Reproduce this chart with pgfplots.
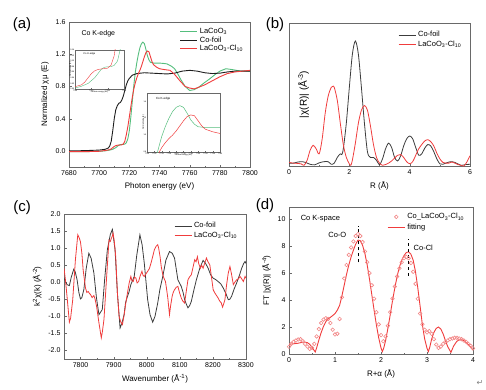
\documentclass[border=0pt]{standalone}
\usepackage{fontspec}
\setmainfont{Liberation Sans}
\newfontfamily\djv{DejaVu Sans}
\usepackage{pgfplots}
\usepackage{pgfplotstable}
\pgfplotsset{compat=1.18}
\definecolor{cgreen}{RGB}{85,190,125}
\definecolor{cred}{RGB}{240,60,60}
\definecolor{ccirc}{RGB}{242,135,135}
\definecolor{cblack}{RGB}{30,30,30}
\definecolor{cgrey}{RGB}{60,60,60}
\definecolor{cframe}{RGB}{105,105,105}

\pgfplotsset{
  myaxis/.style={
    scale only axis,
    anchor=south west,
    axis line style={cframe},
    tick style={cframe},
    tick align=inside,
    major tick length=2.5pt,
    minor tick length=1.4pt,
    tick pos=left,
    /pgf/number format/assume math mode=true,
    /pgf/number format/1000 sep={},
    tick label style={font=\fontsize{7}{8}\selectfont},
    label style={font=\fontsize{8}{9}\selectfont},
    legend style={draw=none, fill=none, font=\fontsize{7.5}{8.5}\selectfont,
      at={(0.98,0.98)}, anchor=north east, row sep=-1.5pt},
    legend cell align=left,
  },
  inset/.style={
    scale only axis,
    anchor=south west,
    axis background/.style={fill=white},
    axis line style={cframe, line width=0.3pt},
    tick style={cframe, line width=0.2pt},
    tick align=inside,
    major tick length=1pt,
    tick pos=left,
    /pgf/number format/assume math mode=true,
    /pgf/number format/1000 sep={},
    tick label style={font=\fontsize{2}{2}\selectfont, inner sep=0.5pt},
    label style={font=\fontsize{2}{2}\selectfont, inner sep=0.5pt},
    xlabel shift=-1pt, ylabel shift=-2pt,
  }
}

% ---------- panel (a) data ----------
\pgfplotstableread{
x y
7680 -0.01
7690 -0.01
7700 -0.005
7704 0.0
7707 0.01
7709 0.02
7711 0.04
7712 0.055
7713 0.07
7714 0.078
7715 0.08
7716 0.08
7717 0.085
7718 0.1
7719 0.15
7720 0.25
7721 0.42
7722 0.62
7723 0.82
7724 0.98
7725 1.1
7726 1.2
7727 1.28
7728 1.33
7729 1.35
7730 1.33
7731 1.26
7732 1.18
7733 1.13
7734 1.1
7736 1.09
7738 1.09
7740 1.09
7743 1.085
7745 1.08
7748 1.05
7750 1.02
7752 0.96
7754 0.89
7757 0.8
7760 0.75
7763 0.76
7766 0.79
7770 0.85
7773 0.89
7777 0.95
7780 0.99
7784 1.02
7788 1.01
7794 0.99
7800 0.99
}\aGreen
\pgfplotstableread{
x y
7680 -0.01
7690 -0.01
7700 -0.005
7704 0.005
7707 0.015
7708 0.025
7709 0.04
7710 0.055
7711 0.065
7712 0.07
7713 0.072
7714 0.073
7715 0.075
7716 0.085
7717 0.12
7718 0.2
7719 0.3
7720 0.42
7721 0.55
7722 0.67
7723 0.77
7724 0.85
7725 0.91
7726 0.96
7727 1.0
7728 1.05
7729 1.11
7730 1.17
7731 1.22
7732 1.24
7733 1.23
7734 1.17
7735 1.11
7736 1.07
7738 1.04
7740 1.02
7743 1.01
7747 1.0
7750 0.95
7754 0.86
7757 0.8
7760 0.78
7763 0.77
7766 0.79
7770 0.82
7775 0.87
7780 0.92
7785 0.96
7790 0.98
7795 0.99
7800 1.0
}\aRed
\pgfplotstableread{
x y
7680 0.0
7690 0.003
7700 0.01
7704 0.02
7706 0.035
7707 0.06
7708 0.12
7709 0.25
7710 0.4
7711 0.51
7712 0.56
7713 0.59
7714 0.6
7715 0.63
7716 0.68
7717 0.75
7718 0.82
7719 0.87
7720 0.9
7722 0.94
7725 0.96
7730 0.97
7735 0.965
7740 0.96
7745 0.955
7750 0.965
7755 0.99
7760 1.0
7765 0.99
7770 0.97
7775 0.96
7780 0.965
7785 0.98
7790 0.99
7795 0.99
7800 0.99
}\aBlack

% ---------- panel (b) data ----------
\pgfplotstableread{
x y
0.0 0.02
0.15 0.02
0.3 0.028
0.45 0.03
0.55 0.025
0.7 0.012
0.85 0.008
1.0 0.022
1.15 0.03
1.3 0.03
1.4 0.012
1.5 0.02
1.6 0.06
1.7 0.085
1.75 0.08
1.8 0.12
1.9 0.3
2.0 0.55
2.1 0.78
2.2 0.874
2.3 0.78
2.4 0.55
2.5 0.3
2.6 0.1
2.7 0.06
2.8 0.06
2.9 0.04
3.0 0.01
3.1 0.05
3.2 0.12
3.3 0.16
3.4 0.13
3.5 0.06
3.6 0.035
3.7 0.07
3.8 0.14
3.9 0.19
4.0 0.21
4.1 0.19
4.2 0.13
4.3 0.075
4.4 0.085
4.5 0.125
4.6 0.15
4.7 0.14
4.8 0.1
4.9 0.05
5.0 0.015
5.1 0.012
5.2 0.02
5.35 0.03
5.5 0.025
5.7 0.005
5.85 0.01
6.0 0.012
}\bBlack
\pgfplotstableread{
x y
0.0 0.025
0.15 0.02
0.3 0.018
0.4 0.015
0.5 0.005
0.6 0.04
0.7 0.11
0.8 0.145
0.9 0.12
1.0 0.085
1.1 0.19
1.2 0.37
1.3 0.49
1.4 0.55
1.45 0.557
1.5 0.55
1.6 0.46
1.7 0.3
1.8 0.15
1.9 0.06
2.0 0.015
2.05 0.005
2.1 0.04
2.2 0.16
2.3 0.3
2.4 0.39
2.5 0.423
2.6 0.39
2.7 0.28
2.8 0.15
2.9 0.06
3.0 0.02
3.1 0.005
3.2 0.01
3.3 0.02
3.4 0.035
3.5 0.055
3.6 0.075
3.7 0.08
3.8 0.06
3.9 0.03
4.0 0.016
4.1 0.03
4.2 0.075
4.3 0.12
4.4 0.15
4.5 0.175
4.6 0.184
4.7 0.17
4.8 0.14
4.9 0.09
5.0 0.05
5.1 0.025
5.2 0.02
5.3 0.02
5.4 0.028
5.5 0.02
5.6 0.01
5.7 0.005
5.8 0.0
5.9 0.03
6.0 0.072
}\bRed

% ---------- panel (c) data ----------
\pgfplotstableread{
x y
7750 0.12
7759.1 -0.07
7766.2 -0.10
7772 0.15
7779.4 0.38
7784 0.3
7789.6 0.07
7795 -0.3
7799.7 -0.49
7804 -0.45
7809.9 -0.22
7817 0.4
7825.1 0.85
7832 0.7
7840.3 0.27
7848 -0.45
7855.6 -0.95
7865.7 -0.80
7873 0.1
7881.0 0.95
7890 1.4
7896.2 1.55
7904.3 0.95
7911.4 -0.32
7919.5 -1.34
7925 -1.2
7931.7 -0.95
7936 -0.6
7941.9 -0.41
7946 -0.3
7952.0 -0.07
7962.2 0.17
7970 0.8
7979.4 1.39
7986 1.1
7992.6 0.56
8002.8 -0.51
8010 -0.95
8018.0 -1.17
8025 -1.0
8033.2 -0.61
8040 -0.2
8048.5 0.17
8058 0.65
8068.8 0.90
8077 0.85
8084.0 0.71
8094.2 0.07
8104.3 -0.12
8110 -0.3
8114.5 -0.51
8120 -0.65
8124.6 -0.75
8130 -0.68
8134.8 -0.56
8142 -0.25
8150.0 0.07
8160 0.4
8170.3 0.64
8178 0.55
8185.6 0.41
8193 0.22
8200.8 0.12
8208 0.08
8216.0 0.02
8224 -0.05
8231.3 -0.17
8240 -0.35
8246.5 -0.51
8251 -0.5
8256.6 -0.41
8264 -0.2
8271.8 -0.02
8280 0.2
8287.0 0.41
8293 0.55
8297.2 0.61
8300 0.55
}\cBlack
\pgfplotstableread{
x y
7750 0.41
7754 0.1
7759.1 -0.41
7766.2 -1.17
7770 -1.05
7776.4 -0.51
7784.5 0.66
7791.6 1.39
7796 1.3
7799.7 1.19
7804 0.85
7807.9 0.36
7812 0.05
7815.0 -0.17
7819 -0.3
7823.1 -0.27
7827 -0.33
7830.2 -0.36
7835 -0.45
7840.4 -0.39
7844 -0.5
7848.5 -0.71
7855.6 -1.19
7862.7 -1.63
7866 -1.45
7870.8 -1.09
7878.9 0.17
7886.0 1.24
7890 1.2
7893.1 1.29
7896 1.35
7898.2 1.44
7902 1.2
7906.3 0.75
7911.4 -0.32
7916.5 -1.0
7921 -1.15
7926.6 -1.24
7931 -1.0
7936.8 -0.61
7942 -0.3
7947.0 -0.02
7952.0 0.17
7955 0.05
7959.1 0.02
7963 0.15
7967.3 0.12
7971 -0.02
7975.4 0.02
7980 0.18
7985.5 0.32
7989 0.2
7992.6 0.17
7998 0.25
8002.8 0.32
8008 0.4
8012.9 0.56
8018 0.75
8023.1 0.95
8028 1.05
8033.2 1.10
8036 1.0
8040.3 0.75
8044 0.45
8048.5 0.22
8052 0.12
8056.6 0.02
8060 -0.2
8063.7 -0.46
8068.8 -0.95
8072 -0.7
8076.9 -0.41
8080 -0.3
8084.0 -0.22
8089 -0.15
8094.2 -0.12
8099 -0.3
8104.3 -0.46
8109 -0.55
8114.5 -0.61
8119 -0.3
8124.6 0.07
8129 0.15
8134.8 0.22
8139 0.4
8145.0 0.66
8149 0.6
8153.1 0.75
8157 0.55
8162.2 0.41
8166 0.5
8170.3 0.41
8175 0.55
8180.5 0.71
8185 0.6
8190.6 0.51
8195 0.2
8200.8 -0.22
8205 -0.3
8210.9 -0.39
8215 -0.45
8221.1 -0.56
8225 -0.6
8229.2 -0.73
8233 -0.62
8236.3 -0.51
8241 -0.1
8246.4 0.27
8251.5 0.46
8256 0.25
8261.7 -0.07
8266 0.0
8271.8 0.07
8277 0.1
8282.0 0.17
8287 0.1
8292.1 0.02
8297.2 0.17
8300 0.12
}\cRed

% ---------- panel (d) data ----------
\pgfplotstableread{
x y
0.00 0.54
0.05 0.75
0.10 0.9
0.15 1.0
0.20 1.08
0.25 1.1
0.30 0.95
0.35 0.75
0.40 0.55
0.45 0.38
0.50 0.45
0.55 0.75
0.60 1.3
0.65 1.85
0.70 2.3
0.75 2.55
0.80 2.65
0.85 2.6
0.90 2.3
0.95 1.8
1.00 1.45
1.05 1.5
1.10 2.6
1.15 4.2
1.20 5.6
1.25 6.6
1.30 7.35
1.35 7.9
1.40 8.35
1.45 8.75
1.50 8.9
1.55 8.75
1.60 8.3
1.65 7.6
1.70 6.8
1.75 6.0
1.80 5.1
1.85 4.1
1.90 3.1
1.95 2.2
2.00 1.4
2.05 0.95
2.10 1.3
2.15 2.1
2.20 3.1
2.25 4.1
2.30 5.0
2.35 5.75
2.40 6.35
2.45 6.8
2.50 7.1
2.55 7.2
2.60 7.1
2.65 6.75
2.70 6.1
2.75 5.2
2.80 4.1
2.85 3.0
2.90 2.2
2.95 1.8
3.00 1.6
3.05 1.7
3.10 1.5
3.15 1.1
3.20 0.7
3.25 0.45
3.30 0.55
3.35 0.75
3.40 0.9
3.45 1.0
3.50 1.1
3.55 1.15
3.60 1.2
3.65 1.2
3.70 1.15
3.75 1.1
3.80 1.0
3.85 0.9
3.90 0.75
3.95 0.6
4.00 0.42
}\dData
\pgfplotstableread{
x y
0.00 0.72
0.10 0.76
0.20 0.8
0.30 0.88
0.35 0.88
0.40 0.84
0.45 0.72
0.50 0.5
0.55 0.25
0.57 0.15
0.60 0.45
0.65 1.05
0.70 1.6
0.75 2.05
0.80 2.4
0.85 2.6
0.90 2.72
0.95 2.85
1.00 3.0
1.05 3.25
1.10 3.6
1.15 4.3
1.20 5.1
1.25 5.9
1.30 6.6
1.35 7.2
1.40 7.7
1.45 8.15
1.50 8.45
1.55 8.4
1.60 8.05
1.65 7.45
1.70 6.6
1.75 5.55
1.80 4.4
1.85 3.25
1.90 2.15
1.95 1.2
2.00 0.45
2.03 0.18
2.06 0.45
2.10 1.0
2.15 1.9
2.20 2.9
2.25 3.95
2.30 4.9
2.35 5.75
2.40 6.45
2.45 6.95
2.50 7.3
2.55 7.52
2.60 7.58
2.65 7.4
2.70 6.95
2.75 6.1
2.80 4.9
2.85 3.55
2.90 2.15
2.95 1.1
3.00 0.42
3.03 0.18
3.06 0.5
3.10 1.1
3.15 1.6
3.20 1.9
3.25 2.0
3.30 1.85
3.35 1.5
3.40 1.0
3.45 0.55
3.52 0.12
3.58 0.6
3.65 0.95
3.70 1.04
3.75 1.05
3.80 1.0
3.85 0.85
3.90 0.7
3.95 0.5
4.00 0.3
}\dFit

\begin{document}
\begin{tikzpicture}
\useasboundingbox (0,0) rectangle (486pt,389pt);

% ===================== (a) =====================
\begin{axis}[myaxis, at={(69pt,222pt)}, width=181pt, height=145pt,
  xmin=7680, xmax=7800, ymin=-0.2, ymax=1.6,
  xtick={7680,7700,...,7800}, ytick={0,0.4,...,1.6},
  minor x tick num=1, minor y tick num=1,
  yticklabel style={/pgf/number format/fixed, /pgf/number format/fixed zerofill, /pgf/number format/precision=1},
  xlabel={Photon energy (eV)}, ylabel={Normalized χμ (E)},
  legend style={at={(0.99,0.985)}, row sep=-2.5pt},
]
\addplot[cgreen, line width=0.9pt] table[x=x,y=y] {\aGreen};
\addlegendentry{LaCoO\textsubscript{3}}
\addplot[cblack, line width=0.9pt] table[x=x,y=y] {\aBlack};
\addlegendentry{Co-foil}
\addplot[cred, line width=0.9pt] table[x=x,y=y] {\aRed};
\addlegendentry{LaCoO\textsubscript{3}-Cl\textsubscript{10}}
\node[anchor=west, font=\fontsize{7}{8}\selectfont] at (axis cs:7686,1.46) {Co K-edge};
\end{axis}

% inset 1
\begin{axis}[inset, at={(75pt,300pt)}, width=49pt, height=39pt,
  xmin=7705, xmax=7720, ymin=0, ymax=0.14,
  xtick={7705,7710,7715,7720}, ytick={0,0.02,...,0.14},
  yticklabel style={/pgf/number format/fixed, /pgf/number format/fixed zerofill, /pgf/number format/precision=2},
  xlabel={Photon energy (eV)}, ylabel={Normalized μ(E)},
]
\addplot[cgreen, line width=0.4pt] table[x=x,y=y] {\aGreen};
\addplot[cred, line width=0.4pt] table[x=x,y=y] {\aRed};
\node[anchor=west, font=\fontsize{2.5}{3}\selectfont] at (axis cs:7706.5,0.125) {Co K-edge};
\end{axis}

% inset 2
\begin{axis}[inset, at={(147pt,237pt)}, width=73pt, height=59pt,
  xmin=7720, xmax=7740, ymin=0.8, ymax=1.5,
  xtick={7720,7722,...,7740}, ytick={0.8,1.0,1.2,1.4},
  yticklabel style={/pgf/number format/fixed, /pgf/number format/fixed zerofill, /pgf/number format/precision=1},
  xlabel={Photon energy (eV)}, ylabel={Normalized μ(E)},
]
\addplot[cgreen, line width=0.5pt] table[x=x,y=y] {\aGreen};
\addplot[cred, line width=0.5pt] table[x=x,y=y] {\aRed};
\node[anchor=west, font=\fontsize{3}{3.5}\selectfont] at (axis cs:7721.5,1.43) {Co K-edge};
\end{axis}

% ===================== (b) =====================
\begin{axis}[myaxis, at={(289pt,223pt)}, width=181pt, height=143pt,
  xmin=0, xmax=6, ymin=0, ymax=1,
  xtick={0,2,4,6}, minor x tick num=1, ytick=\empty,
  xlabel={R (Å)}, ylabel={|χ(R)| (Å\textsuperscript{-3})},
  every axis y label/.style={at={(axis description cs:0.08,0.5)}, rotate=90, anchor=center},
  legend style={at={(0.98,0.97)}},
]
\addplot[cgrey, line width=0.8pt, smooth, tension=0.5] table[x=x,y=y] {\bBlack};
\addlegendentry{Co-foil}
\addplot[cred, line width=0.8pt, smooth, tension=0.5] table[x=x,y=y] {\bRed};
\addlegendentry{LaCoO\textsubscript{3}-Cl\textsubscript{10}}
\end{axis}

% ===================== (c) =====================
\begin{axis}[myaxis, at={(64pt,30pt)}, width=182pt, height=145pt,
  xmin=7750, xmax=8300, ymin=-2.25, ymax=2.0,
  xtick={7800,7900,...,8300}, minor x tick num=1,
  ytick={-2,-1.5,...,2}, minor y tick num=1,
  yticklabel style={/pgf/number format/fixed, /pgf/number format/fixed zerofill, /pgf/number format/precision=1},
  xlabel={Wavenumber (Å\textsuperscript{-1})}, ylabel={k\textsuperscript{2}χ(k) (Å\textsuperscript{-2})},
  legend style={at={(0.98,0.97)}},
]
\addplot[cgrey, line width=0.8pt] table[x=x,y=y] {\cBlack};
\addlegendentry{Co-foil}
\addplot[cred, line width=0.8pt] table[x=x,y=y] {\cRed};
\addlegendentry{LaCoO\textsubscript{3}-Cl\textsubscript{10}}
\end{axis}

% ===================== (d) =====================
\begin{axis}[myaxis, at={(289pt,35pt)}, width=184pt, height=147pt,
  xmin=0, xmax=4, ymin=0, ymax=10.9,
  xtick={0,1,2,3,4}, minor x tick num=1,
  ytick={0,2,...,10}, minor y tick num=1,
  xlabel={R+α (Å)}, ylabel={FT |χ(R)| (Å\textsuperscript{-4})},
  legend style={at={(0.98,0.985)}, row sep=0pt},
]
\addplot[only marks, mark=o, mark size=1.8pt, ccirc, mark options={line width=0.6pt}] table[x=x,y=y] {\dData};
\addlegendentry{Co\_LaCoO\textsubscript{3}-Cl\textsubscript{10}}
\addplot[cred, line width=0.9pt] table[x=x,y=y] {\dFit};
\addlegendentry{fitting}
\addplot[black, dashed, line width=0.5pt, forget plot] coordinates {(1.5,6.8) (1.5,9.5)};
\addplot[black, dashed, line width=0.5pt, forget plot] coordinates {(2.6,5.8) (2.6,8.55)};
\node[font=\fontsize{7.5}{8.5}\selectfont] at (axis cs:1.05,8.8) {Co-O};
\node[font=\fontsize{7.5}{8.5}\selectfont] at (axis cs:2.92,7.85) {Co-Cl};
\node[anchor=west, font=\fontsize{7.5}{8.5}\selectfont] at (axis cs:0.18,10.0) {Co K-space};
\end{axis}

% panel labels
\node[font=\fontsize{15}{17}\selectfont] at (22pt,364pt) {(a)};
\node[font=\fontsize{15}{17}\selectfont] at (275pt,364pt) {(b)};
\node[font=\fontsize{15}{17}\selectfont] at (22pt,181pt) {(c)};
\node[font=\fontsize{15}{17}\selectfont] at (265pt,183pt) {(d)};
\node[font=\djv\fontsize{8}{9}\selectfont, gray] at (480pt,6pt) {↵};
\end{tikzpicture}
\end{document}
